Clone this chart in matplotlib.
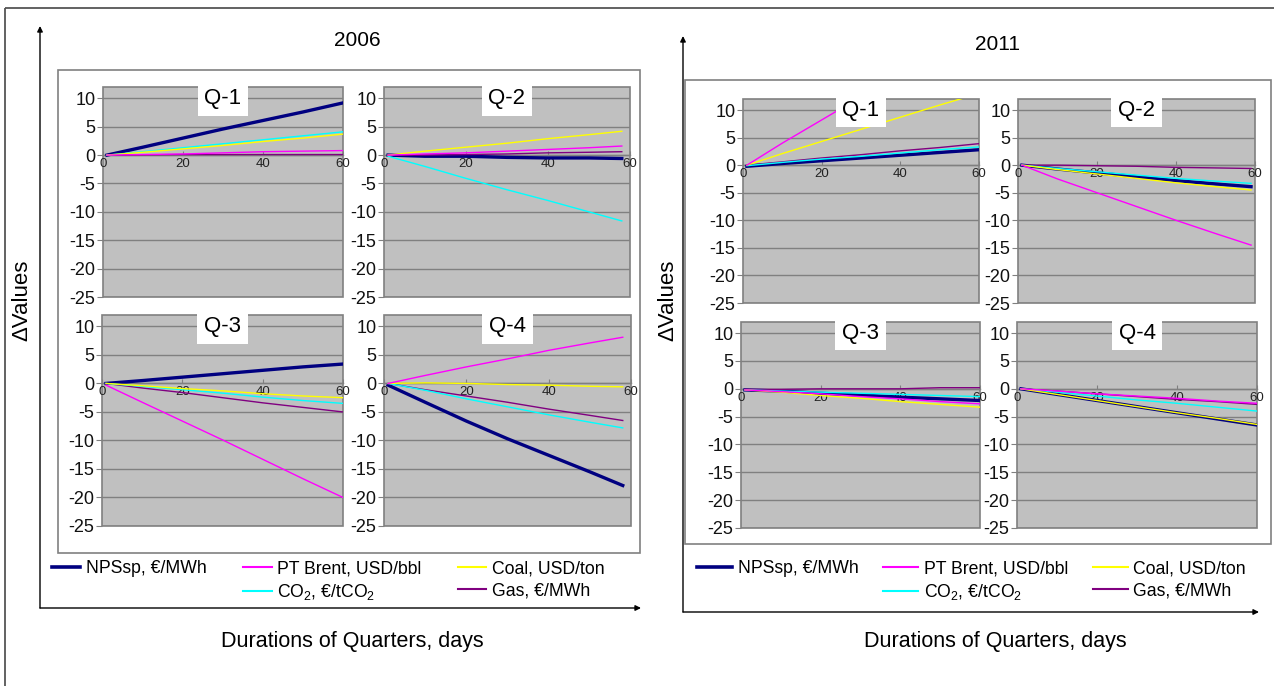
import matplotlib
matplotlib.use("Agg")
import matplotlib.pyplot as plt
from matplotlib.lines import Line2D
from matplotlib.patches import Rectangle

plt.rcParams['font.family'] = ['Liberation Sans', 'DejaVu Sans']
plt.rcParams['mathtext.fontset'] = 'custom'
plt.rcParams['mathtext.rm'] = 'Liberation Sans'
plt.rcParams['axes.unicode_minus'] = False

# ---------------- data ----------------
YEARS = ['2006', '2011']
QUARTERS = ['Q-1', 'Q-2', 'Q-3', 'Q-4']
SERIES = ['NPSsp, €/MWh', 'PT Brent, USD/bbl', 'Coal, USD/ton',
          'CO$\\mathregular{_2}$, €/tCO$\\mathregular{_2}$', 'Gas, €/MWh']
YTICKS = [-25, -20, -15, -10, -5, 0, 5, 10]
XTICKS = [0, 20, 40, 60]

DAYS_2006 = {'Q-1': [1, 10, 20, 30, 40, 50, 60],
             'Q-2': [1, 10, 20, 30, 40, 50, 58],
             'Q-3': [1, 10, 20, 30, 40, 50, 60],
             'Q-4': [1, 10, 20, 30, 40, 50, 58]}
DAYS_2011 = {'Q-1': [1, 10, 20, 30, 40, 50, 60],
             'Q-2': [1, 10, 20, 30, 40, 50, 59],
             'Q-3': [1, 10, 20, 30, 40, 50, 60],
             'Q-4': [1, 10, 20, 30, 40, 50, 60]}

# order of each row: NPSsp, Brent, Coal, CO2, Gas
VAL_2006_Q1 = [[0, 1.4, 3.0, 4.6, 6.1, 7.6, 9.2],
               [0, 0.1, 0.2, 0.4, 0.6, 0.7, 0.8],
               [0, 0.5, 1.1, 1.7, 2.4, 3.0, 3.7],
               [0, 0.6, 1.3, 2.0, 2.7, 3.4, 4.1],
               [0, 0.05, 0.1, 0.1, 0.1, 0.1, 0.1]]
VAL_2006_Q2 = [[0, -0.2, -0.2, -0.4, -0.5, -0.5, -0.6],
               [0, 0.2, 0.4, 0.7, 1.0, 1.3, 1.6],
               [0, 0.7, 1.4, 2.1, 2.9, 3.6, 4.2],
               [-0.2, -2.0, -4.1, -6.1, -8.0, -10.0, -11.6],
               [0, 0.0, 0.1, 0.2, 0.4, 0.5, 0.6]]
VAL_2006_Q3 = [[0, 0.5, 1.1, 1.7, 2.3, 2.9, 3.4],
               [-0.3, -3.3, -6.6, -9.9, -13.3, -16.7, -20.0],
               [0, -0.4, -0.9, -1.3, -1.8, -2.2, -2.5],
               [0, -0.5, -1.1, -1.7, -2.4, -3.0, -3.5],
               [0, -0.8, -1.6, -2.5, -3.4, -4.2, -5.0]]
VAL_2006_Q4 = [[-0.3, -3.3, -6.6, -9.7, -12.6, -15.5, -17.9],
               [0, 1.4, 2.9, 4.3, 5.8, 7.1, 8.1],
               [0, 0.1, 0.0, -0.2, -0.3, -0.5, -0.6],
               [0, -1.2, -2.7, -4.1, -5.5, -6.8, -7.8],
               [0, -1.1, -2.2, -3.3, -4.5, -5.6, -6.5]]
VAL_2011_Q1 = [[-0.2, 0.3, 0.8, 1.3, 1.8, 2.3, 2.8],
               [0, 4.0, 8.2, 12.4, 16.6, 20.6, 24.6],
               [0, 2.1, 4.3, 6.5, 8.7, 10.9, 13.0],
               [-0.1, 0.5, 1.1, 1.6, 2.2, 2.8, 3.3],
               [0, 0.6, 1.3, 1.9, 2.6, 3.2, 3.9]]
VAL_2011_Q2 = [[0, -0.7, -1.4, -2.1, -2.8, -3.4, -3.9],
               [0, -2.5, -5.0, -7.5, -10.0, -12.4, -14.5],
               [0, -0.8, -1.6, -2.4, -3.2, -3.9, -4.5],
               [0, -0.6, -1.2, -1.8, -2.4, -2.9, -3.3],
               [0, 0.0, -0.1, -0.2, -0.4, -0.5, -0.6]]
VAL_2011_Q3 = [[-0.2, -0.4, -0.8, -1.1, -1.5, -1.8, -2.1],
               [-0.2, -0.5, -0.9, -1.4, -1.8, -2.3, -2.7],
               [-0.2, -0.6, -1.2, -1.7, -2.3, -2.8, -3.3],
               [-0.2, -0.4, -0.6, -0.8, -1.0, -1.2, -1.4],
               [-0.1, -0.1, 0.0, 0.0, 0.0, 0.2, 0.2]]
VAL_2011_Q4 = [[0, -1.0, -2.1, -3.2, -4.3, -5.4, -6.5],
               [0, -0.4, -0.9, -1.3, -1.7, -2.2, -2.6],
               [0, -1.0, -2.1, -3.2, -4.3, -5.3, -6.4],
               [0, -0.6, -1.3, -2.0, -2.6, -3.3, -4.0],
               [0, -0.4, -0.9, -1.4, -1.9, -2.3, -2.8]]

VALUES = {'2006': {'Q-1': VAL_2006_Q1, 'Q-2': VAL_2006_Q2, 'Q-3': VAL_2006_Q3, 'Q-4': VAL_2006_Q4},
          '2011': {'Q-1': VAL_2011_Q1, 'Q-2': VAL_2011_Q2, 'Q-3': VAL_2011_Q3, 'Q-4': VAL_2011_Q4}}
DAYS = {'2006': DAYS_2006, '2011': DAYS_2011}

# ---------------- styles ----------------
COLORS = ['#000080', '#ff00ff', '#ffff00', '#00ffff', '#800080']
WIDTHS = [2.4, 1.0, 1.0, 1.0, 1.0]
DRAW_ORDER = [0, 4, 3, 2, 1]
W, H = 1274, 686

# subplot boxes in pixels: (left, top, right, bottom)
BOXES = {'2006': {'Q-1': (103, 87, 343, 297), 'Q-2': (384, 87, 630, 297),
                  'Q-3': (102, 315, 343, 526), 'Q-4': (384, 315, 631, 526)},
         '2011': {'Q-1': (743, 99, 979, 303), 'Q-2': (1018, 99, 1255, 303),
                  'Q-3': (741, 322, 980, 528), 'Q-4': (1017, 322, 1257, 528)}}

fig = plt.figure(figsize=(W / 100, H / 100), dpi=100)

# overlay for frames, arrows and texts (pixel coordinates)
ov = fig.add_axes([0, 0, 1, 1])
ov.set_xlim(0, W)
ov.set_ylim(H, 0)
ov.axis('off')

ov.add_patch(Rectangle((5, 8), 1300, 700, fill=False, ec='#555555', lw=1.3))
ov.add_patch(Rectangle((58, 70), 582, 483, fill=False, ec='#808080', lw=1.2))
ov.add_patch(Rectangle((685, 80), 586, 464, fill=False, ec='#808080', lw=1.2))

arrow = dict(arrowstyle='-|>', lw=1.0, color='black', mutation_scale=8, shrinkA=0, shrinkB=0)
ov.annotate('', xy=(40, 26), xytext=(40, 608), arrowprops=arrow)
ov.annotate('', xy=(641, 608), xytext=(40, 608), arrowprops=arrow)
ov.annotate('', xy=(683, 36), xytext=(683, 612), arrowprops=arrow)
ov.annotate('', xy=(1259, 612), xytext=(683, 612), arrowprops=arrow)

ov.text(357, 40, '2006', fontsize=15, ha='center', va='center')
ov.text(998, 45, '2011', fontsize=15, ha='center', va='center')
ov.text(22, 300, 'ΔValues', fontsize=16, rotation=90, ha='center', va='center')
ov.text(668, 300, 'ΔValues', fontsize=16, rotation=90, ha='center', va='center')
ov.text(352, 642, 'Durations of Quarters, days', fontsize=15.5, ha='center', va='center')
ov.text(995, 641, 'Durations of Quarters, days', fontsize=15.5, ha='center', va='center')

for year in YEARS:
    for q in QUARTERS:
        l, t, r, b = BOXES[year][q]
        ax = fig.add_axes([l / W, 1 - b / H, (r - l) / W, (b - t) / H])
        ax.set_facecolor('#c0c0c0')
        ax.patch.set_edgecolor('#808080')
        ax.patch.set_linewidth(1.2)
        days = DAYS[year][q]
        vals = VALUES[year][q]
        for i in DRAW_ORDER:
            ax.plot(days, vals[i], color=COLORS[i], lw=WIDTHS[i], zorder=3)
        ax.set_xlim(0, 60)
        ax.set_ylim(-25, 12)
        ax.set_yticks(YTICKS)
        ax.set_xticks(XTICKS)
        ax.grid(axis='y', color='#808080', lw=1.0, zorder=1)
        ax.set_axisbelow(True)
        for s in ['top', 'right', 'left']:
            ax.spines[s].set_visible(False)
        ax.spines['bottom'].set_position(('data', 0))
        ax.spines['bottom'].set_color('#808080')
        ax.spines['bottom'].set_linewidth(1.0)
        ax.spines['bottom'].set_zorder(1)
        ax.tick_params(axis='y', labelsize=13, length=4, color='#808080', pad=1.5,
                       labelcolor='#111111')
        ax.tick_params(axis='x', labelsize=9.5, length=3, direction='in', color='#808080',
                       pad=2, labelcolor='#222222')
        ax.text(30, 10, q, fontsize=16, ha='center', va='center', zorder=5,
                bbox=dict(boxstyle='square,pad=0.3', fc='white', ec='none'))

# legends
def make_legend(x, y, hl, cs):
    handles, labels = [], []
    order = [0, None, 1, 3, 2, 4]
    for i in order:
        if i is None:
            handles.append(Line2D([], [], color='none'))
            labels.append('')
        else:
            handles.append(Line2D([], [], color=COLORS[i], lw=2.6 if i == 0 else 1.5))
            labels.append(SERIES[i])
    fig.legend(handles, labels, loc='upper left', bbox_to_anchor=(x / W, 1 - y / H),
               ncol=3, frameon=False, fontsize=12.7, handlelength=hl, handletextpad=0.3,
               columnspacing=cs, borderpad=0, borderaxespad=0, labelspacing=0.3)

make_legend(52, 560, 1.6, 2.1)
make_legend(697, 560, 2.0, 1.4)

fig.savefig('out.png', dpi=100)
